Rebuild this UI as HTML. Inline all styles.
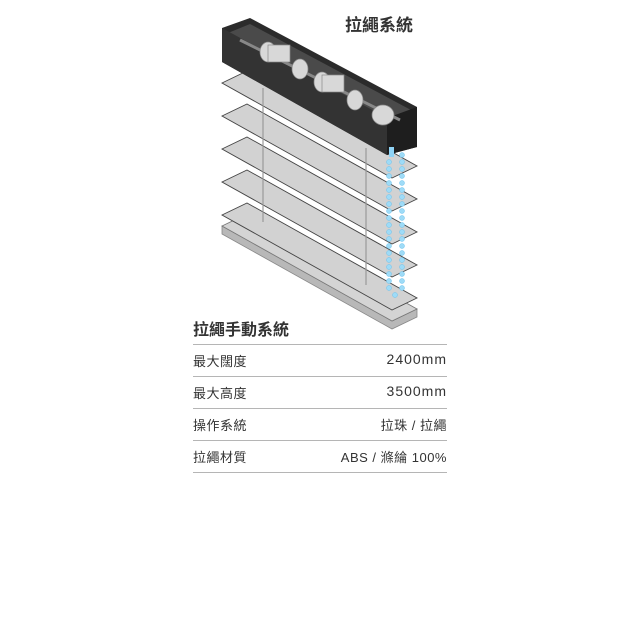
<!DOCTYPE html>
<html><head><meta charset="utf-8"><style>
body{margin:0;width:640px;height:617px;background:#fff;position:relative;overflow:hidden;font-family:"Liberation Sans","Noto Sans CJK TC",sans-serif;color:#333}
.t{position:absolute;white-space:nowrap}
.line{position:absolute;left:193px;width:254px;height:1px;background:#b5b5b5}
.row{position:absolute;left:193px;width:254px;font-size:13px;display:flex;justify-content:space-between;letter-spacing:0.5px}
</style></head><body>
<svg width="640" height="617" style="position:absolute;left:0;top:0">
<!-- bottom rail -->
<polygon points="222,226 222,234 392,329 417,317 417,309 392,321" fill="#b8b8b8" stroke="#888" stroke-width="0.8"/>
<polygon points="222,226 247,214 417,309 392,321" fill="#d4d4d4" stroke="#777" stroke-width="0.8"/>
<!-- slats -->
<g fill="#d2d2d2" stroke="#444" stroke-width="0.9">
<polygon points="222,215 247,203 417,298 392,310"/>
<polygon points="222,182 247,170 417,265 392,277"/>
<polygon points="222,149 247,137 417,232 392,244"/>
<polygon points="222,116 247,104 417,199 392,211"/>
<polygon points="222,83 247,71 417,166 392,178"/>
</g>
<g stroke="#999" stroke-width="1.2">
<line x1="263" y1="88" x2="263" y2="222"/>
<line x1="366" y1="148" x2="366" y2="285"/>
</g>
<!-- headrail -->
<polygon points="222,28 250,18 417,107 417,147 387,155 222,62" fill="#2b2b2b"/>
<polygon points="228,33 250,24 411,110 388,120" fill="#4a4a4a"/>
<polygon points="387,118 417,107 417,147 387,155" fill="#1e1e1e"/>
<polygon points="222,28 387,118 387,155 222,62" fill="#333"/>
<line x1="240" y1="40" x2="400" y2="120" stroke="#888" stroke-width="3"/>
<g fill="#d8d8d8" stroke="#888" stroke-width="0.7">
<ellipse cx="268" cy="52" rx="8" ry="10"/><rect x="268" y="45" width="22" height="17"/>
<ellipse cx="300" cy="69" rx="8" ry="10"/>
<ellipse cx="322" cy="82" rx="8" ry="10"/><rect x="322" y="75" width="22" height="17"/>
<ellipse cx="355" cy="100" rx="8" ry="10"/>
<ellipse cx="383" cy="115" rx="11" ry="10"/>
</g>
<rect x="389" y="147" width="5" height="10" fill="#8fd3f5"/>
<g fill="#9edbf7" stroke="#6cc3ee" stroke-width="0.5">
<circle cx="389" cy="162" r="2.5"/><circle cx="389" cy="169" r="2.5"/><circle cx="389" cy="176" r="2.5"/><circle cx="389" cy="183" r="2.5"/><circle cx="389" cy="190" r="2.5"/><circle cx="389" cy="197" r="2.5"/><circle cx="389" cy="204" r="2.5"/><circle cx="389" cy="211" r="2.5"/><circle cx="389" cy="218" r="2.5"/><circle cx="389" cy="225" r="2.5"/><circle cx="389" cy="232" r="2.5"/><circle cx="389" cy="239" r="2.5"/><circle cx="389" cy="246" r="2.5"/><circle cx="389" cy="253" r="2.5"/><circle cx="389" cy="260" r="2.5"/><circle cx="389" cy="267" r="2.5"/><circle cx="389" cy="274" r="2.5"/><circle cx="389" cy="281" r="2.5"/><circle cx="389" cy="288" r="2.5"/><circle cx="395" cy="295" r="2.5"/>
<circle cx="402" cy="155" r="2.5"/><circle cx="402" cy="162" r="2.5"/><circle cx="402" cy="169" r="2.5"/><circle cx="402" cy="176" r="2.5"/><circle cx="402" cy="183" r="2.5"/><circle cx="402" cy="190" r="2.5"/><circle cx="402" cy="197" r="2.5"/><circle cx="402" cy="204" r="2.5"/><circle cx="402" cy="211" r="2.5"/><circle cx="402" cy="218" r="2.5"/><circle cx="402" cy="225" r="2.5"/><circle cx="402" cy="232" r="2.5"/><circle cx="402" cy="239" r="2.5"/><circle cx="402" cy="246" r="2.5"/><circle cx="402" cy="253" r="2.5"/><circle cx="402" cy="260" r="2.5"/><circle cx="402" cy="267" r="2.5"/><circle cx="402" cy="274" r="2.5"/><circle cx="402" cy="281" r="2.5"/><circle cx="402" cy="288" r="2.5"/>
</g>
</svg>
<div class="t" style="left:345px;top:11px;font-size:17px;font-weight:bold;color:#333">拉繩系統</div>
<div class="t" style="left:193px;top:316px;font-size:16px;font-weight:bold;color:#333">拉繩手動系統</div>
<div class="line" style="top:344px"></div>
<div class="row" style="top:351px"><span>最大闊度</span><span style="font-size:14px;letter-spacing:1px">2400mm</span></div>
<div class="line" style="top:376px"></div>
<div class="row" style="top:383px"><span>最大高度</span><span style="font-size:14px;letter-spacing:1px">3500mm</span></div>
<div class="line" style="top:408px"></div>
<div class="row" style="top:415px"><span>操作系統</span><span>拉珠 / 拉繩</span></div>
<div class="line" style="top:440px"></div>
<div class="row" style="top:447px"><span>拉繩材質</span><span>ABS / 滌綸 100%</span></div>
<div class="line" style="top:472px"></div>
</body></html>
